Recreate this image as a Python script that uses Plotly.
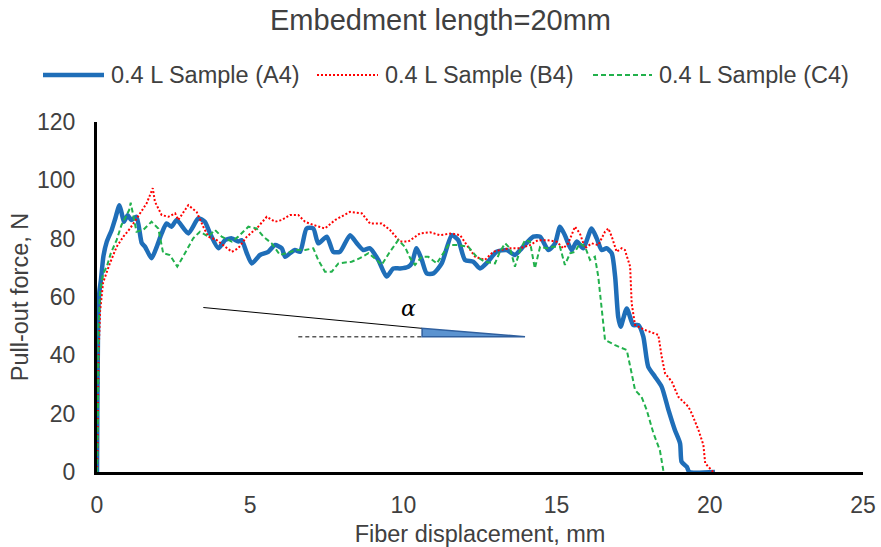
import plotly.graph_objects as go

# Pull-out curves, 20 mm embedment (displacement in mm, force in N)
a4_disp = [0, 0.01, 0.03, 0.05, 0.08, 0.13, 0.21, 0.32, 0.48, 0.60,
           0.73, 0.80, 0.88, 1.0, 1.12, 1.29, 1.46, 1.57, 1.78, 1.95,
           2.11, 2.27, 2.43, 2.60, 2.98, 3.31, 3.52, 3.69, 3.96, 4.18,
           4.40, 4.61, 4.72, 4.89, 5.05, 5.32, 5.59, 5.81, 6.03, 6.14,
           6.30, 6.46, 6.63, 6.84, 7.06, 7.22, 7.50, 7.71, 7.93, 8.26,
           8.48, 8.69, 8.91, 9.18, 9.45, 9.67, 9.89, 10.16, 10.27, 10.43,
           10.60, 10.76, 10.98, 11.25, 11.58, 11.79, 12.01, 12.28, 12.50, 12.75,
           13.04, 13.37, 13.64, 13.86, 14.24, 14.46, 14.73, 14.95, 15.11, 15.27,
           15.49, 15.66, 15.87, 16.14, 16.31, 16.47, 16.63, 16.80, 16.91, 17.01,
           17.09, 17.29, 17.50, 17.67, 17.83, 17.99, 18.21, 18.43, 18.65, 18.86,
           19.03, 19.08, 19.25, 19.33, 20.17]
a4_force = [0, 20, 45, 57, 62, 66, 74, 79, 83, 87,
            91.5, 89, 85.8, 88, 86.4, 87.5, 78.5, 77.2, 73.3, 77.2,
            81.8, 85.2, 84.1, 86.4, 81.8, 87.0, 85.8, 81.8, 76.7, 79.5,
            80.1, 79.0, 79.5, 75.0, 71.5, 74.4, 75.5, 77.8, 76.7, 73.8,
            75.0, 76.1, 75.5, 83.5, 83.5, 78.4, 80.7, 75.5, 75.5, 81.2,
            78.4, 76.1, 76.7, 72.7, 67.0, 69.8, 69.8, 70.4, 71.5, 76.7,
            72.7, 68.1, 68.1, 71.5, 81.2, 79.5, 72.7, 72.1, 69.8, 72.0,
            75.5, 76.1, 74.4, 76.7, 80.7, 80.7, 76.1, 78.4, 84.1, 81.2,
            76.1, 79.0, 76.7, 83.5, 80.1, 76.1, 76.7, 75.0, 67.0, 53.2,
            49.8, 56.1, 50.4, 50.4, 46.4, 36.1, 32.7, 29.2, 21.3, 14.4,
            9.8, 3.5, 1.8, 0, 0]

b4_disp = [0, 0.02, 0.05, 0.10, 0.20, 0.42, 0.64, 0.86, 1.08, 1.40,
           1.62, 1.82, 1.89, 2.11, 2.33, 2.55, 2.65, 2.98, 3.25, 3.47,
           3.63, 3.91, 4.12, 4.40, 4.61, 4.89, 5.21, 5.54, 5.81, 6.03,
           6.30, 6.57, 6.79, 7.06, 7.44, 7.77, 8.26, 8.64, 8.91, 9.29,
           9.56, 9.89, 10.16, 10.54, 10.87, 11.19, 11.58, 11.85, 12.07, 12.34,
           12.66, 12.93, 13.15, 13.48, 13.80, 14.13, 14.40, 14.67, 15.00, 15.22,
           15.38, 15.60, 15.76, 15.93, 16.14, 16.36, 16.58, 16.69, 16.80, 16.96,
           17.12, 17.23, 17.40, 17.45, 17.56, 17.88, 18.32, 18.43, 18.54, 18.76,
           18.97, 19.30, 19.41, 19.63, 19.79, 19.85, 20.11]
b4_force = [0, 10, 40, 55, 65, 71.5, 77.2, 80.7, 83.5, 88.7,
            92.1, 97.3, 92.7, 88.1, 87.5, 88.7, 86.4, 91.5, 89.2, 84.1,
            80.7, 79.5, 77.8, 75.5, 76.7, 80.7, 83.5, 87.5, 85.8, 86.4,
            88.1, 88.1, 85.8, 84.7, 83.5, 86.4, 89.2, 88.7, 85.2, 85.2,
            83.0, 79.0, 79.0, 81.8, 82.2, 81.2, 81.8, 81.2, 77.8, 73.8,
            72.7, 75.5, 76.1, 76.7, 76.7, 77.8, 79.5, 79.5, 79.0, 76.7,
            78.4, 84.1, 81.8, 76.7, 78.4, 77.8, 82.4, 83.5, 80.7, 75.5,
            76.7, 76.1, 70.4, 57.8, 50.4, 48.7, 47.0, 39.5, 33.8, 31.0,
            25.8, 22.4, 20.1, 14.4, 9.3, 3.0, 0]

c4_disp = [0, 0.03, 0.05, 0.10, 0.20, 0.32, 0.45, 0.64, 0.80, 1.05,
           1.10, 1.19, 1.29, 1.51, 1.78, 2.00, 2.16, 2.38, 2.62, 2.87,
           3.14, 3.36, 3.63, 3.85, 4.07, 4.40, 4.61, 4.94, 5.21, 5.43,
           5.70, 5.97, 6.30, 6.52, 6.79, 7.06, 7.22, 7.44, 7.66, 7.88,
           8.31, 8.58, 8.86, 9.13, 9.29, 9.56, 9.83, 10.05, 10.22, 10.38,
           10.60, 10.81, 11.09, 11.30, 11.47, 11.79, 12.12, 12.39, 12.66, 12.99,
           13.15, 13.32, 13.48, 13.64, 13.81, 13.97, 14.13, 14.29, 14.46, 14.68,
           14.89, 15.11, 15.27, 15.44, 15.60, 15.76, 15.93, 16.09, 16.25, 16.36,
           16.47, 16.58, 16.91, 17.29, 17.45, 17.56, 17.77, 17.94, 18.16, 18.37,
           18.48, 18.50]
c4_force = [0, 20, 50, 62, 68, 70.4, 75.0, 79.5, 84.7, 89.8,
            92.3, 87.0, 82.4, 83.0, 85.8, 83.5, 75.0, 74.4, 70.4, 75.0,
            80.1, 82.4, 80.7, 83.0, 80.7, 79.0, 80.7, 84.1, 83.5, 80.7,
            78.4, 74.4, 75.5, 76.1, 76.1, 76.7, 72.7, 68.7, 68.7, 71.5,
            72.1, 73.3, 75.0, 72.7, 71.0, 75.5, 79.5, 77.2, 73.3, 71.0,
            73.8, 73.8, 71.5, 75.0, 77.8, 77.8, 77.2, 73.8, 72.1, 71.5,
            75.5, 78.4, 76.7, 70.4, 76.1, 79.5, 79.0, 69.8, 77.2, 76.7,
            77.2, 77.2, 71.0, 75.0, 75.5, 78.4, 77.2, 72.7, 73.8, 67.0,
            55.5, 45.3, 43.5, 41.8, 33.8, 28.1, 25.8, 21.3, 13.3, 7.5,
            0.7, 0]

series_names = ["0.4 L Sample (A4)", "0.4 L Sample (B4)", "0.4 L Sample (C4)"]
x_ticks = [0, 5, 10, 15, 20, 25]
y_ticks = [0, 20, 40, 60, 80, 100, 120]

# Slope sketch (angle alpha) in data units
slope_start = (3.47, 56.4)
slope_end = (10.61, 49.25)
base_start_x = 6.57
base_y = 46.4
wedge_tip_x = 13.97
alpha_pos = (10.16, 56.1)

TEXT = "#404040"
FONT = "Liberation Sans, Arial, sans-serif"
W, H = 881, 547
M_L, M_R, M_T, M_B = 97, 18, 122, 75
PLOT_W = W - M_L - M_R
PLOT_H = H - M_T - M_B

styles = [
    dict(color="#1F6EB8", width=4.5),
    dict(color="#FF0000", width=2, dash="2px,2px"),
    dict(color="#22B14C", width=2, dash="5px,3px"),
]

fig = go.Figure()
fig.add_trace(go.Scatter(x=a4_disp, y=a4_force, mode="lines", name=series_names[0],
                         line=dict(**styles[0], shape="spline", smoothing=0.6)))
fig.add_trace(go.Scatter(x=b4_disp, y=b4_force, mode="lines", name=series_names[1],
                         line=styles[1]))
fig.add_trace(go.Scatter(x=c4_disp, y=c4_force, mode="lines", name=series_names[2],
                         line=styles[2]))

# Slope line, horizontal reference and shaded wedge
fig.add_shape(type="line", xref="x", yref="y",
              x0=slope_start[0], y0=slope_start[1], x1=slope_end[0], y1=slope_end[1],
              line=dict(color="black", width=1))
fig.add_shape(type="line", xref="x", yref="y",
              x0=base_start_x, y0=base_y, x1=slope_end[0], y1=base_y,
              line=dict(color="#595959", width=1.5, dash="4px,3px"))
fig.add_shape(type="path", xref="x", yref="y",
              path=f"M {slope_end[0]} {slope_end[1]} L {slope_end[0]} {base_y} L {wedge_tip_x} {base_y} Z",
              fillcolor="#5B93D0", line=dict(color="#2F5F9E", width=1.5))
fig.add_annotation(x=alpha_pos[0], y=alpha_pos[1], xref="x", yref="y", text="<i>α</i>",
                   showarrow=False, font=dict(family="DejaVu Serif, serif", size=22, color="black"))

# Single-row legend across the top (key line span and label start, in px)
legend_row_y = 75
legend_keys = [(43, 104, 110), (317, 378, 384), (593, 652, 658)]


def px_x(p):
    return (p - M_L) / PLOT_W


def px_y(p):
    return (H - M_B - p) / PLOT_H


for name, style, (k0, k1, tx) in zip(series_names, styles, legend_keys):
    fig.add_shape(type="line", xref="paper", yref="paper",
                  x0=px_x(k0), x1=px_x(k1), y0=px_y(legend_row_y), y1=px_y(legend_row_y),
                  line=style)
    fig.add_annotation(xref="paper", yref="paper", x=px_x(tx), y=px_y(legend_row_y),
                       xanchor="left", yanchor="middle", text=name, showarrow=False,
                       borderpad=0, font=dict(family=FONT, size=23.5, color=TEXT))

fig.update_layout(
    width=W, height=H,
    margin=dict(l=M_L, r=M_R, t=M_T, b=M_B, autoexpand=False),
    paper_bgcolor="white", plot_bgcolor="white",
    font=dict(family=FONT, size=23, color=TEXT),
    title=dict(text="Embedment length=20mm", x=0.5, xanchor="center",
               y=1 - 20 / H, yanchor="middle", yref="container",
               font=dict(family=FONT, size=29, color=TEXT)),
    showlegend=False,
)
fig.update_xaxes(range=[0, 25], tickvals=x_ticks, showgrid=False, zeroline=False,
                 showline=True, linecolor="black", linewidth=3, ticks="", ticklabelstandoff=10,
                 tickfont=dict(size=23),
                 title=dict(text="Fiber displacement, mm", standoff=11,
                            font=dict(family=FONT, size=23.5, color=TEXT)),
                 automargin=False)
fig.update_yaxes(range=[0, 120], tickvals=y_ticks, showgrid=False, zeroline=False,
                 showline=True, linecolor="black", linewidth=3, ticks="", ticklabelstandoff=14,
                 tickfont=dict(size=23),
                 title=dict(text="Pull-out force, N", standoff=2,
                            font=dict(family=FONT, size=23.5, color=TEXT)),
                 automargin=False)

fig.write_html("out.html")
